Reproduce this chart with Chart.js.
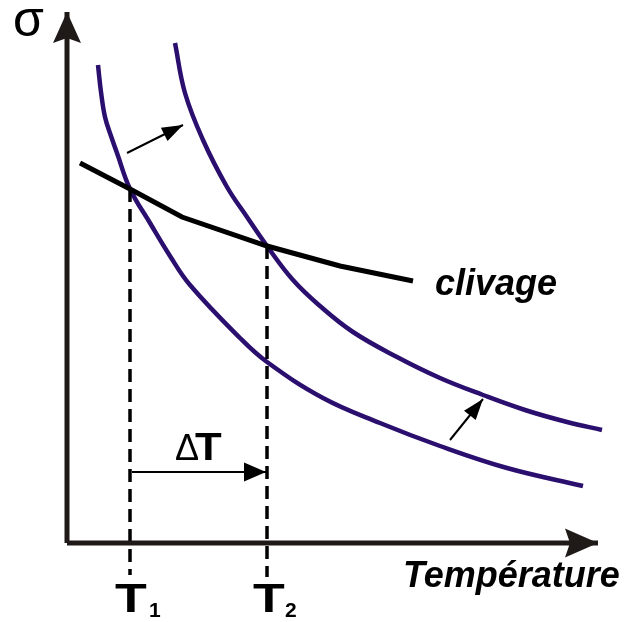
<!DOCTYPE html>
<html>
<head>
<meta charset="utf-8">
<script src="https://cdn.jsdelivr.net/npm/chart.js@4/dist/chart.umd.min.js"></script>
<style>
  html, body { margin: 0; padding: 0; background: #fff; }
  #wrap { width: 627px; height: 622px; }
</style>
</head>
<body>
<div id="wrap"><canvas id="chart_1"></canvas></div>
<script>
// temperature (x) / stress (y), arbitrary units, origin at the axis corner
const ductileX  = [31, 34, 38, 44, 50, 63, 83, 103, 123, 173, 200, 256, 313, 373, 440, 516];
const ductileY  = [478, 451, 426, 407, 390, 354, 320, 287, 258, 205, 181, 145, 120, 97, 75, 57];
const shiftedX  = [108, 118, 136, 160, 180, 200, 226, 253, 286, 330, 373, 416, 458, 500, 535];
const shiftedY  = [500, 450, 403, 356, 326, 297, 263, 237, 211, 186, 165, 148, 133, 121, 113];
const clivageX  = [13, 63, 115, 200, 273, 346];
const clivageY  = [380, 354, 326, 297, 277, 262];
const T1 = 63, T2 = 200;
const sigmaT1 = 354, sigmaT2 = 297;
const axisMaxX = 531, axisMaxY = 531;

const purple = '#2a0f6e';
const ink = '#1f1a17';

function pts(xs, ys) {
    return xs.map((x, i) => ({ x: x, y: ys[i] }));
}

// arrowheads at the last point of any dataset carrying an `arrowHead`
const arrowPlugin = {
    id: 'arrowHeads',
    afterDatasetsDraw(chart) {
        const ctx = chart.ctx;
        chart.data.datasets.forEach((ds, i) => {
            if (!ds.arrowHead) return;
            const pts = chart.getDatasetMeta(i).data;
            const a = pts[pts.length - 2], b = pts[pts.length - 1];
            const ang = Math.atan2(b.y - a.y, b.x - a.x);
            const L = ds.arrowHead.len, W = ds.arrowHead.width / 2;
            const notch = ds.arrowHead.notch || 0;
            ctx.save();
            ctx.translate(b.x, b.y);
            ctx.rotate(ang);
            ctx.fillStyle = ds.borderColor;
            ctx.beginPath();
            ctx.moveTo(0, 0);
            ctx.lineTo(-L, -W);
            ctx.lineTo(-L + notch, 0);
            ctx.lineTo(-L, W);
            ctx.closePath();
            ctx.fill();
            ctx.restore();
        });
    }
};

const FONT = '"Liberation Sans", Arial, sans-serif';
const labels = [
    { text: 'σ', x: -54, y: 507, font: 'normal 50px ' + FONT },
    { text: 'clivage', x: 368, y: 248, font: 'italic bold 36px ' + FONT },
    { text: 'Température', x: 336, y: -44, font: 'italic bold 36px ' + FONT },
    { text: 'Δ', x: 108, y: 83, font: 'normal 36px ' + FONT },
    { text: 'T', x: 128, y: 83, font: 'bold 38px ' + FONT, stretch: 1.15 },
    { text: 'T', x: 48, y: -69, font: 'bold 40px ' + FONT, stretch: 1.3 },
    { text: '1', x: 82, y: -74, font: 'bold 21px ' + FONT },
    { text: 'T', x: 186, y: -69, font: 'bold 40px ' + FONT, stretch: 1.3 },
    { text: '2', x: 218, y: -74, font: 'bold 21px ' + FONT }
];

const textPlugin = {
    id: 'texts',
    afterDraw(chart) {
        const ctx = chart.ctx;
        const sx = chart.scales.x, sy = chart.scales.y;
        labels.forEach(l => {
            ctx.save();
            ctx.fillStyle = '#000';
            ctx.textAlign = 'left';
            ctx.textBaseline = 'alphabetic';
            ctx.font = l.font;
            ctx.translate(sx.getPixelForValue(l.x), sy.getPixelForValue(l.y));
            ctx.scale(l.stretch || 1, 1);
            ctx.fillText(l.text, 0, 0);
            ctx.restore();
        });
    }
};

const line = (data, color, width, extra) => Object.assign({
    data: data,
    borderColor: color,
    borderWidth: width,
    pointRadius: 0,
    fill: false,
    tension: 0
}, extra || {});

const ctx1 = document.getElementById('chart_1').getContext('2d');
const myChart1 = new Chart(ctx1, {
    type: 'line',
    data: {
        datasets: [
            line([{ x: 0, y: 0 }, { x: 0, y: axisMaxY }], ink, 5, { arrowHead: { len: 31, width: 28, notch: 5 } }),
            line([{ x: 0, y: 0 }, { x: axisMaxX, y: 0 }], ink, 5, { arrowHead: { len: 33, width: 29, notch: 5 } }),
            line([{ x: T1, y: sigmaT1 }, { x: T1, y: -32 }], '#000', 3.5, { borderDash: [13, 7] }),
            line([{ x: T2, y: sigmaT2 }, { x: T2, y: -34 }], '#000', 3.5, { borderDash: [13, 7] }),
            line(pts(clivageX, clivageY), '#000', 5),
            line(pts(ductileX, ductileY), purple, 4.5, { tension: 0.4 }),
            line(pts(shiftedX, shiftedY), purple, 4.5, { tension: 0.4 }),
            line([{ x: 60, y: 390 }, { x: 116, y: 418 }], '#000', 2, { arrowHead: { len: 21, width: 15 } }),
            line([{ x: 383, y: 103 }, { x: 416, y: 144 }], '#000', 2, { arrowHead: { len: 21, width: 15 } }),
            line([{ x: 65, y: 71 }, { x: 199, y: 71 }], '#000', 2, { arrowHead: { len: 22, width: 19 } })
        ]
    },
    options: {
        responsive: true,
        maintainAspectRatio: false,
        animation: false,
        layout: { padding: 0 },
        plugins: { legend: { display: false }, tooltip: { enabled: false } },
        scales: {
            x: { type: 'linear', min: -67, max: 560, display: false },
            y: { type: 'linear', min: -79, max: 543, display: false }
        }
    },
    plugins: [arrowPlugin, textPlugin]
});
</script>
</body>
</html>
